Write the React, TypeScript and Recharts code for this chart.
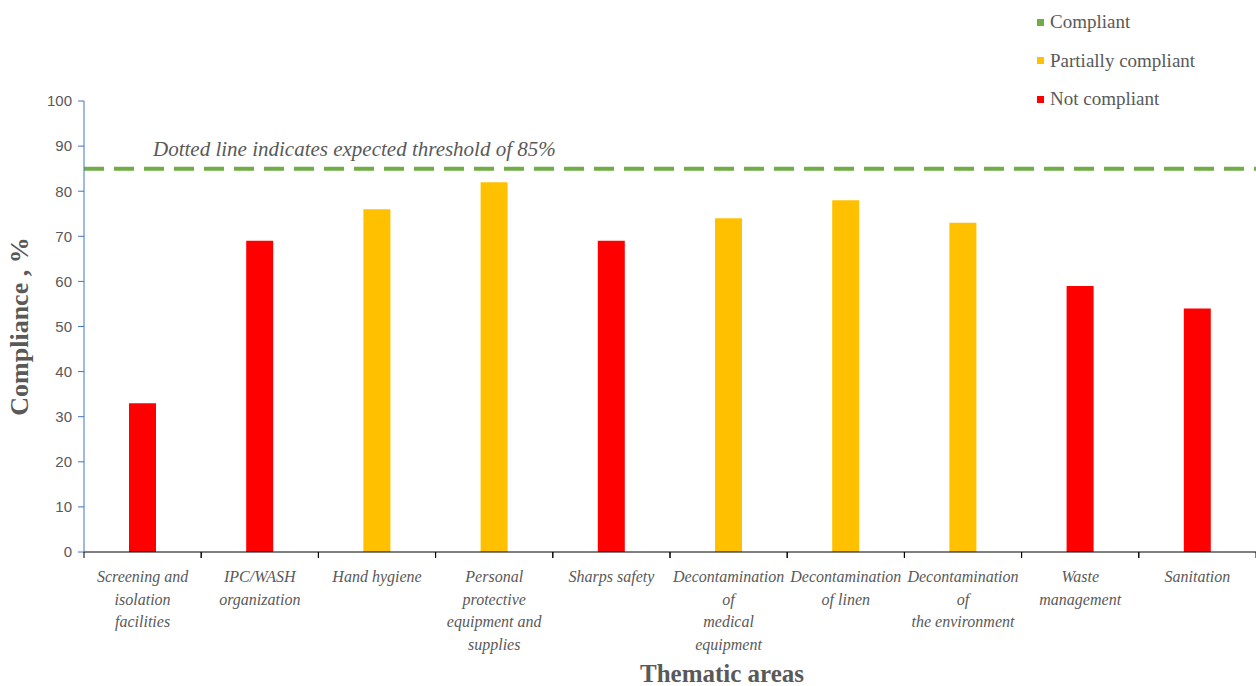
import React from "react";
import { BarChart, Bar, XAxis, YAxis, Cell, ReferenceLine } from "recharts";

// categories, values and compliance status
const CATEGORIES = [
  "Screening and isolation facilities",
  "IPC/WASH organization",
  "Hand hygiene",
  "Personal protective equipment and supplies",
  "Sharps safety",
  "Decontamination of medical equipment",
  "Decontamination of linen",
  "Decontamination of the environment",
  "Waste management",
  "Sanitation",
];

// how each tick label wraps in the original
const TICK_LINES = [
  ["Screening and", "isolation", "facilities"],
  ["IPC/WASH", "organization"],
  ["Hand hygiene"],
  ["Personal", "protective", "equipment and", "supplies"],
  ["Sharps safety"],
  ["Decontamination", "of", "medical", "equipment"],
  ["Decontamination", "of linen"],
  ["Decontamination", "of", "the environment"],
  ["Waste", "management"],
  ["Sanitation"],
];

const COMPLIANCE = [33, 69, 76, 82, 69, 74, 78, 73, 59, 54];
const STATUS = [
  "not",
  "not",
  "partial",
  "partial",
  "not",
  "partial",
  "partial",
  "partial",
  "not",
  "not",
];

const THRESHOLD = 85;
const Y_TICKS = [0, 10, 20, 30, 40, 50, 60, 70, 80, 90, 100];

const LEGEND_LABELS = ["Compliant", "Partially compliant", "Not compliant"];
const LEGEND_KEYS = ["ok", "partial", "not"];

const COLORS: Record<string, string> = {
  ok: "#70AD47",
  partial: "#FFC000",
  not: "#FF0000",
};

const TEXT_GREY = "#595959";
const SERIF = '"Liberation Serif", "DejaVu Serif", serif';

const W = 1256;
const H = 686;
const LEFT = 84;
const BAND = (W - LEFT) / CATEGORIES.length;

const data = CATEGORIES.map((name, i) => ({
  name,
  value: COMPLIANCE[i],
  status: STATUS[i],
}));

function XTick({ x, y, payload }: any) {
  const lines = TICK_LINES[payload.index] || [payload.value];
  return (
    <g>
      <line x1={x - BAND / 2} x2={x - BAND / 2} y1={y} y2={y + 6} stroke="#000" />
      <line x1={x + BAND / 2} x2={x + BAND / 2} y1={y} y2={y + 6} stroke="#000" />
      <text
        x={x}
        y={y + 30}
        textAnchor="middle"
        fill={TEXT_GREY}
        fontFamily={SERIF}
        fontStyle="italic"
        fontSize={16}
      >
        {lines.map((l: string, i: number) => (
          <tspan key={i} x={x} dy={i === 0 ? 0 : 22.5}>
            {l}
          </tspan>
        ))}
      </text>
    </g>
  );
}

function ThresholdLabel({ viewBox }: any) {
  return (
    <text
      x={viewBox.x + 69}
      y={viewBox.y - 13}
      fill={TEXT_GREY}
      fontFamily={SERIF}
      fontStyle="italic"
      fontSize={21}
    >
      Dotted line indicates expected threshold of 85%
    </text>
  );
}

function LegendBox() {
  return (
    <div
      style={{
        position: "absolute",
        left: 1037,
        top: 3,
        fontFamily: SERIF,
        fontSize: 19,
        color: TEXT_GREY,
        whiteSpace: "nowrap",
      }}
    >
      {LEGEND_LABELS.map((label, i) => (
        <div
          key={label}
          style={{ display: "flex", alignItems: "center", height: 38.5 }}
        >
          <span
            style={{
              width: 7,
              height: 7,
              background: COLORS[LEGEND_KEYS[i]],
              marginRight: 6,
            }}
          />
          {label}
        </div>
      ))}
    </div>
  );
}

export default function App() {
  return (
    <div
      style={{
        position: "absolute",
        left: 0,
        top: 0,
        width: W,
        height: H,
        background: "#fff",
      }}
    >
      <BarChart
        width={W}
        height={H}
        data={data}
        margin={{ top: 101, right: 0, left: 0, bottom: 0 }}
      >
        <XAxis
          dataKey="name"
          axisLine={{ stroke: "#000" }}
          tickLine={false}
          tickSize={0}
          tickMargin={0}
          interval={0}
          tick={<XTick />}
          height={134}
          label={{
            value: "Thematic areas",
            position: "insideBottom",
            offset: 4,
            dx: 52,
            fill: TEXT_GREY,
            fontFamily: SERIF,
            fontWeight: "bold",
            fontSize: 25,
          }}
        />
        <YAxis
          width={LEFT}
          domain={[0, 100]}
          ticks={Y_TICKS}
          interval={0}
          axisLine={{ stroke: "#4472C4" }}
          tickLine={{ stroke: "#4472C4" }}
          tickSize={6}
          tickMargin={6}
          tick={{
            fill: TEXT_GREY,
            fontSize: 15,
            fontFamily: '"Liberation Sans", Arial, sans-serif',
          }}
          label={{
            value: "Compliance , %",
            angle: -90,
            position: "insideLeft",
            offset: 19,
            style: { textAnchor: "middle" },
            fill: TEXT_GREY,
            fontFamily: SERIF,
            fontWeight: "bold",
            fontSize: 26,
          }}
        />
        <ReferenceLine
          y={THRESHOLD}
          stroke={COLORS.ok}
          strokeWidth={4}
          strokeDasharray="20 10"
          label={<ThresholdLabel />}
        />
        <Bar dataKey="value" barSize={27} isAnimationActive={false}>
          {data.map((d) => (
            <Cell key={d.name} fill={COLORS[d.status]} />
          ))}
        </Bar>
      </BarChart>
      <LegendBox />
    </div>
  );
}
